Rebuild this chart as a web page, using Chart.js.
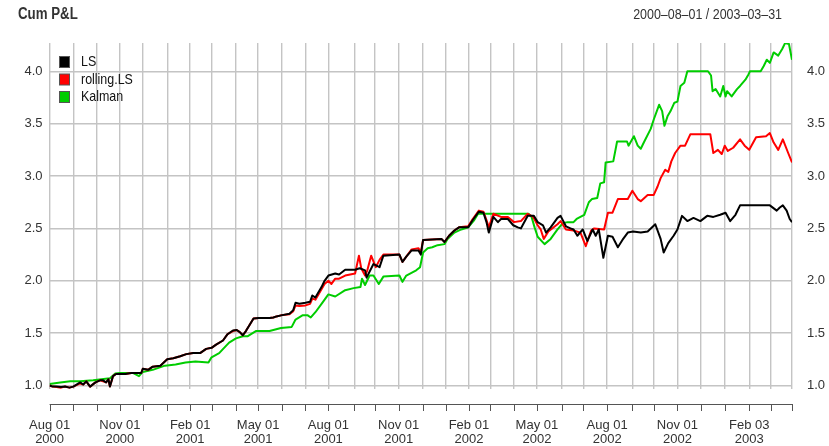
<!DOCTYPE html>
<html>
<head>
<meta charset="utf-8">
<script src="https://cdn.jsdelivr.net/npm/chart.js@4.4.1/dist/chart.umd.min.js"></script>
<style>
  html, body { margin: 0; padding: 0; background: #fff; }
  #wrap { width: 829px; height: 446px; }
</style>
</head>
<body>
<div id="wrap"><canvas id="pnl" width="829" height="446"></canvas></div>
<script>
// -------------------------
// Data
// -------------------------
const START = "2000-08-01";
const END = "2003-03-31";

const lsDates = [
  "2000-08-01","2000-08-05","2000-08-10","2000-08-16","2000-08-21","2000-08-27","2000-09-01","2000-09-10",
  "2000-09-14","2000-09-18","2000-09-23","2000-09-30","2000-10-06","2000-10-10","2000-10-14","2000-10-17",
  "2000-10-19","2000-10-23","2000-10-27","2000-11-08","2000-11-16","2000-11-29","2000-12-01","2000-12-08",
  "2000-12-14","2000-12-24","2001-01-02","2001-01-10","2001-01-19","2001-01-27","2001-02-05","2001-02-14",
  "2001-02-22","2001-03-01","2001-03-07","2001-03-16","2001-03-22","2001-03-29","2001-04-03","2001-04-07",
  "2001-04-11","2001-04-15","2001-04-20","2001-04-25","2001-05-02","2001-05-16","2001-05-21","2001-05-25",
  "2001-05-31","2001-06-11","2001-06-16","2001-06-19","2001-06-24","2001-07-02","2001-07-08","2001-07-11",
  "2001-07-15","2001-07-23","2001-07-27","2001-08-01","2001-08-10","2001-08-15","2001-08-23","2001-09-05",
  "2001-09-11","2001-09-18","2001-09-20","2001-09-29","2001-10-07","2001-10-12","2001-11-02","2001-11-06",
  "2001-11-11","2001-11-18","2001-11-27","2001-11-30","2001-12-03","2001-12-27","2001-12-31","2002-01-06",
  "2002-01-13","2002-01-19","2002-01-31","2002-02-06","2002-02-14","2002-02-20","2002-02-24","2002-02-27",
  "2002-03-05","2002-03-11","2002-03-15","2002-03-24","2002-03-31","2002-04-06","2002-04-10","2002-04-19",
  "2002-04-27","2002-05-02","2002-05-09","2002-05-13","2002-05-19","2002-05-28","2002-06-01","2002-06-08",
  "2002-06-14","2002-06-18","2002-06-23","2002-06-30","2002-07-06","2002-07-13","2002-07-17","2002-07-21",
  "2002-07-27","2002-08-02","2002-08-08","2002-08-15","2002-08-21","2002-08-28","2002-09-04","2002-09-14",
  "2002-09-23","2002-10-03","2002-10-10","2002-10-14","2002-10-20","2002-10-27","2002-11-01","2002-11-07",
  "2002-11-14","2002-11-22","2002-12-01","2002-12-10","2002-12-18","2002-12-27","2003-01-03","2003-01-09",
  "2003-01-16","2003-01-22","2003-03-02","2003-03-11","2003-03-15","2003-03-19","2003-03-24","2003-03-28",
  "2003-03-31"
];
const lsValues = [
  1.00,0.99,0.99,0.985,0.99,0.98,0.99,1.03,
  1.01,1.04,0.99,1.03,1.05,1.05,1.03,1.06,
  0.99,1.09,1.11,1.11,1.12,1.12,1.16,1.15,
  1.18,1.19,1.25,1.26,1.28,1.30,1.31,1.31,
  1.35,1.36,1.39,1.43,1.49,1.525,1.53,1.51,
  1.48,1.52,1.58,1.64,1.645,1.645,1.65,1.66,
  1.67,1.685,1.72,1.79,1.78,1.79,1.80,1.86,
  1.84,1.94,2.00,2.05,2.07,2.06,2.105,2.105,
  2.12,2.10,2.03,2.16,2.13,2.24,2.25,2.18,
  2.23,2.29,2.29,2.25,2.39,2.40,2.37,2.43,
  2.48,2.51,2.51,2.58,2.66,2.65,2.56,2.46,
  2.61,2.56,2.59,2.59,2.53,2.51,2.50,2.62,
  2.62,2.56,2.53,2.46,2.51,2.60,2.62,2.52,
  2.50,2.49,2.43,2.49,2.38,2.49,2.43,2.49,
  2.22,2.43,2.42,2.32,2.39,2.46,2.47,2.46,
  2.47,2.54,2.40,2.27,2.36,2.43,2.49,2.62,
  2.57,2.60,2.57,2.62,2.61,2.63,2.65,2.57,
  2.63,2.72,2.72,2.67,2.70,2.72,2.67,2.59,
  2.56
];

const rollDates = [
  "2000-08-01","2000-08-05","2000-08-10","2000-08-16","2000-08-21","2000-08-27","2000-09-01","2000-09-10",
  "2000-09-14","2000-09-18","2000-09-23","2000-09-30","2000-10-06","2000-10-10","2000-10-14","2000-10-17",
  "2000-10-19","2000-10-23","2000-10-27","2000-11-08","2000-11-16","2000-11-29","2000-12-01","2000-12-08",
  "2000-12-14","2000-12-24","2001-01-02","2001-01-10","2001-01-19","2001-01-27","2001-02-05","2001-02-14",
  "2001-02-22","2001-03-01","2001-03-07","2001-03-16","2001-03-22","2001-03-29","2001-04-03","2001-04-07",
  "2001-04-11","2001-04-15","2001-04-20","2001-04-25","2001-05-02","2001-05-16","2001-05-21","2001-05-25",
  "2001-05-31","2001-06-11","2001-06-16","2001-06-19","2001-06-24","2001-07-02","2001-07-08","2001-07-11",
  "2001-07-15","2001-07-23","2001-07-27","2001-08-01","2001-08-05","2001-08-10","2001-08-15","2001-08-23",
  "2001-09-05","2001-09-10","2001-09-13","2001-09-18","2001-09-21","2001-09-26","2001-10-02","2001-10-07",
  "2001-10-12","2001-11-02","2001-11-06","2001-11-11","2001-11-18","2001-11-27","2001-11-30","2001-12-03",
  "2001-12-27","2001-12-31","2002-01-06","2002-01-13","2002-01-19","2002-01-31","2002-02-06","2002-02-14",
  "2002-02-20","2002-02-24","2002-02-27","2002-03-05","2002-03-15","2002-03-24","2002-04-01","2002-04-10",
  "2002-04-19","2002-04-26","2002-05-02","2002-05-06","2002-05-10","2002-05-16","2002-05-28","2002-06-01",
  "2002-06-08","2002-06-18","2002-06-27","2002-07-04","2002-07-11","2002-07-15","2002-07-28","2002-08-02",
  "2002-08-08","2002-08-15","2002-08-28","2002-09-03","2002-09-10","2002-09-14","2002-09-23","2002-10-01",
  "2002-10-06","2002-10-10","2002-10-16","2002-10-20","2002-10-24","2002-10-29","2002-11-05","2002-11-11",
  "2002-11-18","2002-12-14","2002-12-18","2002-12-24","2002-12-29","2003-01-02","2003-01-06","2003-01-13",
  "2003-01-22","2003-01-28","2003-02-03","2003-02-12","2003-02-25","2003-03-02","2003-03-07","2003-03-13",
  "2003-03-19","2003-03-26","2003-03-31"
];
const rollValues = [
  1.00,0.99,0.985,0.98,0.99,0.98,0.99,1.02,
  1.01,1.04,0.99,1.03,1.05,1.04,1.03,1.06,
  0.99,1.09,1.11,1.11,1.12,1.12,1.16,1.15,
  1.18,1.19,1.25,1.26,1.28,1.30,1.31,1.31,
  1.35,1.36,1.39,1.43,1.49,1.52,1.53,1.51,
  1.48,1.52,1.58,1.64,1.645,1.645,1.65,1.66,
  1.67,1.68,1.71,1.765,1.76,1.765,1.78,1.83,
  1.82,1.92,1.97,2.00,1.97,2.02,2.02,2.05,
  2.07,2.24,2.12,2.05,2.10,2.24,2.13,2.20,
  2.25,2.25,2.18,2.23,2.30,2.31,2.27,2.39,
  2.40,2.37,2.43,2.48,2.51,2.52,2.59,2.67,
  2.66,2.58,2.51,2.64,2.61,2.61,2.56,2.57,
  2.64,2.61,2.53,2.49,2.40,2.47,2.54,2.57,
  2.49,2.48,2.46,2.33,2.48,2.50,2.49,2.65,
  2.65,2.78,2.78,2.86,2.78,2.76,2.82,2.82,
  2.90,2.98,3.06,3.04,3.14,3.22,3.29,3.29,
  3.40,3.40,3.22,3.25,3.21,3.29,3.24,3.27,
  3.35,3.29,3.25,3.37,3.38,3.41,3.32,3.25,
  3.35,3.22,3.13
];

const kalDates = [
  "2000-08-01","2000-08-15","2000-08-28","2000-09-10","2000-09-27","2000-10-19","2000-10-26","2000-11-01",
  "2000-11-18","2000-11-26","2000-12-01","2000-12-14","2000-12-30","2001-01-13","2001-01-26","2001-02-08",
  "2001-02-25","2001-03-01","2001-03-11","2001-03-24","2001-04-02","2001-04-11","2001-04-17","2001-04-28",
  "2001-05-16","2001-05-31","2001-06-14","2001-06-19","2001-06-28","2001-07-05","2001-07-09","2001-07-15",
  "2001-07-24","2001-08-01","2001-08-10","2001-08-23","2001-09-03","2001-09-12","2001-09-14","2001-09-18",
  "2001-09-24","2001-09-29","2001-10-06","2001-10-12","2001-11-02","2001-11-06","2001-11-11","2001-11-24",
  "2001-11-29","2001-12-03","2001-12-09","2001-12-15","2001-12-22","2001-12-31","2002-01-04","2002-01-13",
  "2002-01-22","2002-01-31","2002-02-08","2002-02-13","2002-04-20","2002-04-24","2002-04-28","2002-05-02",
  "2002-05-11","2002-05-19","2002-05-28","2002-06-04","2002-06-10","2002-06-18","2002-06-22","2002-07-02",
  "2002-07-08","2002-07-12","2002-07-19","2002-07-23","2002-07-28","2002-07-30","2002-08-09","2002-08-14",
  "2002-08-27","2002-08-29","2002-09-05","2002-09-10","2002-09-14","2002-09-18","2002-09-27","2002-10-01",
  "2002-10-08","2002-10-12","2002-10-15","2002-10-19","2002-10-23","2002-10-28","2002-11-01","2002-11-05",
  "2002-11-10","2002-11-14","2002-12-11","2002-12-15","2002-12-17","2002-12-21","2002-12-27","2002-12-31",
  "2003-01-03","2003-01-05","2003-01-11","2003-01-18","2003-01-22","2003-01-29","2003-02-02","2003-02-04",
  "2003-02-18","2003-02-22","2003-02-26","2003-03-02","2003-03-07","2003-03-13","2003-03-18","2003-03-22",
  "2003-03-27","2003-03-31"
];
const kalValues = [
  1.015,1.03,1.04,1.04,1.05,1.07,1.115,1.12,
  1.12,1.09,1.13,1.15,1.19,1.20,1.22,1.23,
  1.22,1.27,1.31,1.41,1.45,1.47,1.47,1.52,
  1.52,1.55,1.56,1.63,1.67,1.67,1.65,1.70,
  1.79,1.87,1.85,1.91,1.93,1.94,2.02,1.96,
  2.05,2.05,1.97,2.04,2.05,1.99,2.05,2.10,
  2.13,2.27,2.31,2.32,2.34,2.35,2.40,2.46,
  2.49,2.51,2.58,2.64,2.64,2.61,2.51,2.42,
  2.35,2.40,2.49,2.55,2.56,2.56,2.59,2.63,
  2.75,2.78,2.79,2.93,2.94,3.13,3.14,3.33,
  3.33,3.29,3.38,3.29,3.26,3.32,3.45,3.54,
  3.68,3.62,3.48,3.57,3.62,3.70,3.71,3.86,
  3.89,4.00,4.00,3.96,3.81,3.83,3.76,3.86,
  3.76,3.81,3.76,3.83,3.86,3.92,3.97,4.00,
  4.00,4.05,4.11,4.08,4.18,4.15,4.21,4.27,
  4.26,4.11
];

// x axis: first trading day of each month, label only every third
const tickDates = [
  "2000-08-01","2000-09-01","2000-10-02","2000-11-01","2000-12-01","2001-01-02","2001-02-01","2001-03-01",
  "2001-04-02","2001-05-01","2001-06-01","2001-07-02","2001-08-01","2001-09-04","2001-10-01","2001-11-01",
  "2001-12-03","2002-01-02","2002-02-01","2002-03-01","2002-04-01","2002-05-01","2002-06-03","2002-07-01",
  "2002-08-01","2002-09-03","2002-10-01","2002-11-01","2002-12-02","2003-01-02","2003-02-03","2003-03-03",
  "2003-03-31"
];
const tickLabels = [
  ["Aug 01","2000"],"","",["Nov 01","2000"],"","",["Feb 01","2001"],"",
  "",["May 01","2001"],"","",["Aug 01","2001"],"","",["Nov 01","2001"],
  "","",["Feb 01","2002"],"","",["May 01","2002"],"","",
  ["Aug 01","2002"],"","",["Nov 01","2002"],"","",["Feb 03","2003"],"",
  ""
];
const yTicks = [1.0, 1.5, 2.0, 2.5, 3.0, 3.5, 4.0];

const seriesNames = ["LS", "rolling.LS", "Kalman"];
const seriesColors = ["#000000", "#ff0000", "#00cd00"];

// -------------------------
// Helpers
// -------------------------
const FONT = "'Liberation Sans', Arial, sans-serif";
const TEXT = "#333333";
const GRID = "#c4c4c4";
const SQUEEZE = 0.83; // the reference text is narrow

function dayNum(s) {
  const [y, m, d] = s.split("-").map(Number);
  return (Date.UTC(y, m - 1, d) - Date.UTC(2000, 7, 1)) / 86400000;
}

function toPoints(dates, values) {
  return dates.map((d, i) => ({ x: dayNum(d), y: values[i] }));
}

function narrowText(ctx, text, x, y) {
  ctx.save();
  ctx.translate(x, y);
  ctx.scale(SQUEEZE, 1);
  ctx.fillText(text, 0, 0);
  ctx.restore();
}

const tickDays = tickDates.map(dayNum);

// title, legend and the detached x axis line
const decor = {
  id: "decor",
  afterDraw(chart) {
    const ctx = chart.ctx;
    const xs = chart.scales.x;
    ctx.save();

    ctx.fillStyle = TEXT;
    ctx.textBaseline = "middle";
    ctx.font = "bold 16px " + FONT;
    ctx.textAlign = "left";
    narrowText(ctx, "Cum P&L", 18, 15);
    ctx.font = "15px " + FONT;
    ctx.textAlign = "right";
    narrowText(ctx, "2000–08–01 / 2003–03–31", 782, 15);

    // axis line + month ticks
    const axisY = 404;
    ctx.strokeStyle = "#555";
    ctx.lineWidth = 1;
    ctx.beginPath();
    ctx.moveTo(xs.getPixelForValue(tickDays[0]), axisY + 0.5);
    ctx.lineTo(xs.getPixelForValue(tickDays[tickDays.length - 1]), axisY + 0.5);
    tickDays.forEach(v => {
      const px = Math.round(xs.getPixelForValue(v)) + 0.5;
      ctx.moveTo(px, axisY);
      ctx.lineTo(px, axisY + 7);
    });
    ctx.stroke();

    // legend
    ctx.font = "15px " + FONT;
    ctx.textAlign = "left";
    chart.data.datasets.forEach((ds, i) => {
      const cy = 62 + i * 17.5;
      ctx.fillStyle = ds.borderColor;
      ctx.fillRect(59.5, cy - 5.5, 10, 11);
      ctx.strokeStyle = "#555";
      ctx.strokeRect(59.5, cy - 5.5, 10, 11);
      ctx.fillStyle = "#111";
      narrowText(ctx, ds.label, 81, cy);
    });

    ctx.restore();
  },
};

const yMin = 0.967;
const yMax = 4.27;
const tickFont = { family: FONT, size: 13 };

new Chart(document.getElementById("pnl"), {
  type: "line",
  data: {
    datasets: [
      { label: seriesNames[0], data: toPoints(lsDates, lsValues), borderColor: seriesColors[0], order: 1 },
      { label: seriesNames[1], data: toPoints(rollDates, rollValues), borderColor: seriesColors[1], order: 2 },
      { label: seriesNames[2], data: toPoints(kalDates, kalValues), borderColor: seriesColors[2], order: 3 },
    ],
  },
  options: {
    responsive: false,
    animation: false,
    layout: { padding: { top: 43, left: 0, right: 0, bottom: 0 } },
    elements: {
      point: { radius: 0 },
      line: { borderWidth: 2, tension: 0, borderJoinStyle: "round" },
    },
    plugins: { legend: { display: false }, tooltip: { enabled: false } },
    scales: {
      x: {
        type: "linear",
        min: 0,
        max: dayNum(END),
        afterBuildTicks: s => { s.ticks = tickDays.map(v => ({ value: v })); },
        afterFit: s => { s.height = 57; },
        ticks: {
          autoSkip: false,
          maxRotation: 0,
          minRotation: 0,
          padding: 29,
          color: TEXT,
          font: { family: FONT, size: 13, lineHeight: 1.1 },
          callback: (v, i) => tickLabels[i],
        },
        grid: { color: GRID, lineWidth: 1.4, drawTicks: false },
        border: { display: false },
      },
      y: {
        position: "left",
        min: yMin,
        max: yMax,
        afterBuildTicks: s => { s.ticks = yTicks.map(v => ({ value: v })); },
        afterFit: s => { s.width = 46; },
        ticks: { padding: 7, color: TEXT, font: tickFont, callback: v => v.toFixed(1) },
        grid: { color: GRID, lineWidth: 1.4, drawTicks: false },
        border: { display: false },
      },
      y2: {
        position: "right",
        min: yMin,
        max: yMax,
        afterBuildTicks: s => { s.ticks = yTicks.map(v => ({ value: v })); },
        afterFit: s => { s.width = 37; },
        ticks: { padding: 15, color: TEXT, font: tickFont, callback: v => v.toFixed(1) },
        grid: { drawOnChartArea: false, drawTicks: false },
        border: { display: false },
      },
    },
  },
  plugins: [decor],
});
</script>
</body>
</html>
